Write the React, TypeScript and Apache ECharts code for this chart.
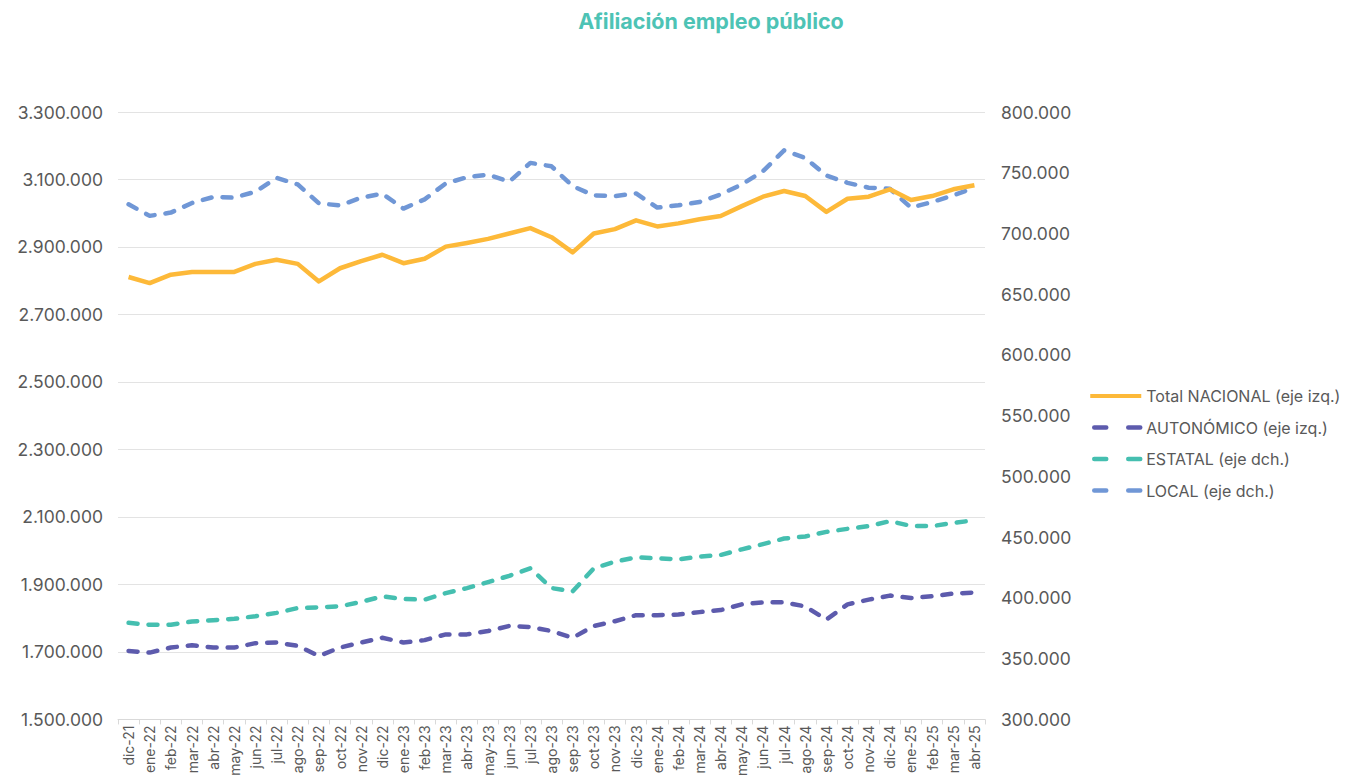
import React, { useEffect, useRef } from "react";
import * as echarts from "echarts";

const TITLE = "Afiliación empleo público";

const months = [
  "dic-21",
  "ene-22", "feb-22", "mar-22", "abr-22", "may-22", "jun-22", "jul-22", "ago-22", "sep-22", "oct-22", "nov-22", "dic-22",
  "ene-23", "feb-23", "mar-23", "abr-23", "may-23", "jun-23", "jul-23", "ago-23", "sep-23", "oct-23", "nov-23", "dic-23",
  "ene-24", "feb-24", "mar-24", "abr-24", "may-24", "jun-24", "jul-24", "ago-24", "sep-24", "oct-24", "nov-24", "dic-24",
  "ene-25", "feb-25", "mar-25", "abr-25",
];

// left axis
const totalNacional = [
  2811000,
  2793000, 2818000, 2826000, 2826000, 2826000, 2850000, 2862000, 2850000, 2798000, 2837000, 2858000, 2877000,
  2852000, 2865000, 2901000, 2912000, 2924000, 2940000, 2956000, 2929000, 2884000, 2940000, 2953000, 2979000,
  2961000, 2970000, 2982000, 2992000, 3021000, 3049000, 3066000, 3051000, 3004000, 3043000, 3049000, 3071000,
  3039000, 3051000, 3071000, 3083000,
];

const autonomico = [
  1703000,
  1698000, 1713000, 1720000, 1713000, 1713000, 1726000, 1728000, 1718000, 1688000, 1713000, 1728000, 1742000,
  1728000, 1735000, 1752000, 1752000, 1762000, 1777000, 1774000, 1762000, 1742000, 1777000, 1791000, 1809000,
  1809000, 1811000, 1818000, 1824000, 1841000, 1847000, 1847000, 1835000, 1796000, 1841000, 1855000, 1867000,
  1860000, 1865000, 1873000, 1876000,
];

// right axis
const estatal = [
  379500,
  377900, 377900, 380600, 381700, 382800, 385000, 387700, 391700, 392300, 393100, 396700, 401300,
  399100, 398600, 404000, 408100, 413000, 418200, 424400, 408100, 405400, 424400, 429900, 433400,
  432600, 431800, 434000, 435400, 440000, 444300, 448900, 450600, 454400, 456900, 459100, 463200,
  459300, 459100, 461800, 463900,
];

const local = [
  724000,
  714500, 717200, 725100, 730000, 729500, 734400, 745800, 740400, 724800, 723100, 729500, 732800,
  720500, 728100, 741200, 746300, 748500, 742600, 758100, 755300, 739000, 731400, 730800, 733000,
  721300, 723200, 725900, 732200, 740400, 751200, 768400, 762100, 747700, 741700, 737700, 736800,
  721300, 725900, 731400, 737700,
];

const seriesNames = [
  "Total NACIONAL (eje izq.)",
  "AUTONÓMICO (eje izq.)",
  "ESTATAL (eje dch.)",
  "LOCAL (eje dch.)",
];

const seriesColors = ["#FDB939", "#5D5BAD", "#45BFB0", "#7097D6"];

const LEFT_MIN = 1500000;
const LEFT_MAX = 3300000;
const LEFT_STEP = 200000;
const RIGHT_MIN = 300000;
const RIGHT_MAX = 800000;
const RIGHT_STEP = 50000;

const fmt = (v: number) => {
  const s = Math.round(v).toString();
  return s.replace(/\B(?=(\d{3})+(?!\d))/g, ".");
};

const FONT = "Inter, 'Noto Sans', sans-serif";
const GRAY = "#595959";

export default function App() {
  const ref = useRef<HTMLDivElement>(null);
  useEffect(() => {
    if (!ref.current) return;
    const chart = echarts.init(ref.current, null, { renderer: "svg" });
    const dash = [9, 11];
    const legendDash = [12, 22];
    chart.setOption({
      animation: false,
      backgroundColor: "#ffffff",
      textStyle: { fontFamily: FONT },
      title: {
        text: TITLE,
        left: 706,
        top: 5,
        textAlign: "center",
        textStyle: { color: "#4DC3B5", fontSize: 21.5, fontWeight: "bold", fontFamily: FONT },
      },
      legend: {
        orient: "vertical",
        left: 1083,
        top: 383,
        itemWidth: 51,
        itemHeight: 14,
        itemGap: 15.5,
        itemStyle: { opacity: 0 },
        textStyle: { color: GRAY, fontSize: 16, fontFamily: FONT },
        data: seriesNames.map((n, i) => ({
          name: n,
          lineStyle:
            i === 0
              ? { width: 4, color: seriesColors[i], type: "solid", cap: "butt" }
              : { width: 4.5, color: seriesColors[i], type: legendDash, cap: "round", dashOffset: -4 },
        })),
      },
      grid: { left: 118, right: 386, top: 112, bottom: 54, containLabel: false },
      xAxis: {
        type: "category",
        data: months,
        boundaryGap: true,
        axisLine: { show: true, lineStyle: { color: "#d9d9d9", width: 1 } },
        axisTick: { show: true, length: 5, lineStyle: { color: "#d9d9d9" } },
        axisLabel: { rotate: 90, interval: 0, color: GRAY, fontSize: 14, margin: 6, fontFamily: FONT },
        splitLine: { show: false },
      },
      yAxis: [
        {
          type: "value",
          min: 0,
          max: LEFT_MAX - LEFT_MIN,
          interval: LEFT_STEP,
          axisLine: { show: false },
          axisTick: { show: false },
          axisLabel: {
            color: GRAY,
            fontSize: 17.5,
            margin: 15,
            fontFamily: FONT,
            formatter: (v: number) => fmt(v + LEFT_MIN),
          },
          splitLine: { show: true, lineStyle: { color: "#e3e3e3", width: 1 } },
        },
        {
          type: "value",
          min: RIGHT_MIN,
          max: RIGHT_MAX,
          interval: RIGHT_STEP,
          position: "right",
          axisLine: { show: false },
          axisTick: { show: false },
          axisLabel: {
            color: GRAY,
            fontSize: 17.5,
            margin: 16,
            fontFamily: FONT,
            formatter: (v: number) => fmt(v),
          },
          splitLine: { show: false },
        },
      ],
      series: [
        {
          name: seriesNames[0],
          type: "line",
          yAxisIndex: 0,
          data: totalNacional.map((v) => v - LEFT_MIN),
          symbol: "none",
          color: seriesColors[0],
          lineStyle: { color: seriesColors[0], width: 4.5, join: "round" },
          z: 4,
        },
        {
          name: seriesNames[1],
          type: "line",
          yAxisIndex: 0,
          data: autonomico.map((v) => v - LEFT_MIN),
          symbol: "none",
          color: seriesColors[1],
          lineStyle: { color: seriesColors[1], width: 4.5, type: dash, cap: "round", join: "round" },
          z: 3,
        },
        {
          name: seriesNames[2],
          type: "line",
          yAxisIndex: 1,
          data: estatal,
          symbol: "none",
          color: seriesColors[2],
          lineStyle: { color: seriesColors[2], width: 4.5, type: dash, cap: "round", join: "round" },
          z: 3,
        },
        {
          name: seriesNames[3],
          type: "line",
          yAxisIndex: 1,
          data: local,
          symbol: "none",
          color: seriesColors[3],
          lineStyle: { color: seriesColors[3], width: 4.5, type: dash, cap: "round", join: "round" },
          z: 3,
        },
      ],
    });
    return () => chart.dispose();
  }, []);
  return <div ref={ref} style={{ width: 1371, height: 779, position: "absolute", left: 0, top: 0 }} />;
}
